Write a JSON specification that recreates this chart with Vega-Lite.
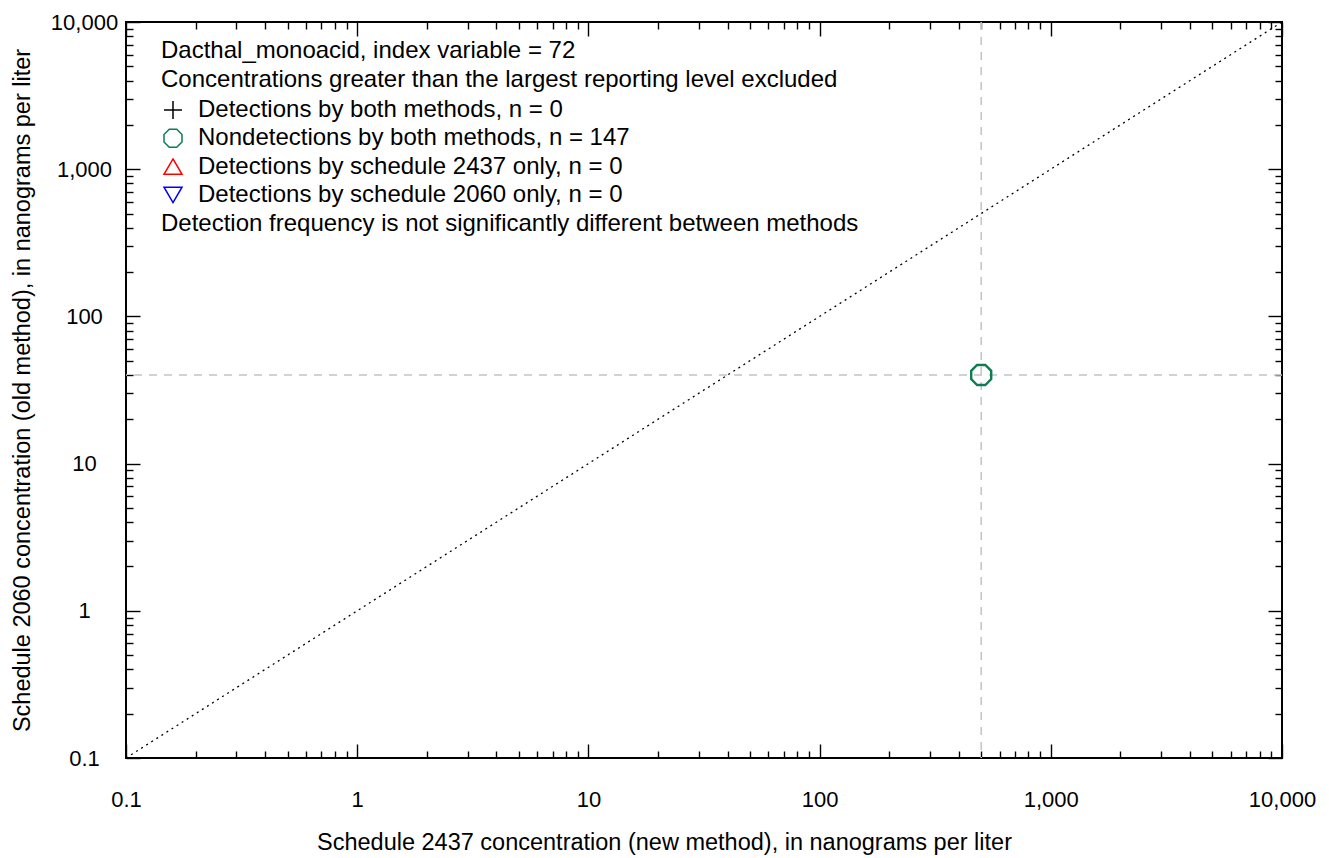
{
  "$schema": "https://vega.github.io/schema/vega-lite/v6.json",
  "width": 1156,
  "height": 736,
  "autosize": {"type": "none"},
  "padding": {"left": 126, "top": 22, "right": 47, "bottom": 100},
  "background": "white",
  "config": {
    "font": "Liberation Sans",
    "view": {"stroke": "black", "strokeWidth": 2},
    "axis": {
      "domain": false,
      "grid": false,
      "labelFont": "Liberation Sans",
      "labelFontSize": 22,
      "labelColor": "black",
      "titleFont": "Liberation Sans",
      "titleFontSize": 23.5,
      "titleFontWeight": "normal",
      "titleColor": "black",
      "tickColor": "black",
      "tickWidth": 1.4,
      "labelFlush": false,
      "labelOverlap": false,
      "labelBound": false
    },
    "legend": {
      "labelFont": "Liberation Sans",
      "labelFontSize": 24,
      "labelColor": "black",
      "titleFont": "Liberation Sans",
      "titleFontSize": 24,
      "titleFontWeight": "normal",
      "titleColor": "black",
      "padding": 0,
      "labelLimit": 0,
      "titleLimit": 0
    }
  },
  "datasets": {
    "samples": [
      {"new": 500, "old": 40, "category": "Nondetections by both methods,  n = 147"}
    ],
    "diagonal": [{"v": 0.1}, {"v": 10000}],
    "reporting": [{"level_new": 500, "level_old": 40}]
  },
  "layer": [
    {
      "data": {"name": "diagonal"},
      "mark": {"type": "line", "color": "black", "strokeDash": [2, 4], "strokeWidth": 1.3},
      "encoding": {
        "x": {
          "field": "v", "type": "quantitative",
          "scale": {"type": "log", "domain": [0.1, 10000], "nice": false},
          "axis": {
            "orient": "bottom", "values": [0.1, 1, 10, 100, 1000, 10000], "format": ",",
            "ticks": false, "labelPadding": 31, "titlePadding": 20, "titleX": 538,
            "title": "Schedule 2437 concentration (new method), in nanograms per liter"
          }
        },
        "y": {
          "field": "v", "type": "quantitative",
          "scale": {"type": "log", "domain": [0.1, 10000], "nice": false},
          "axis": {
            "orient": "left", "values": [0.1, 1, 10, 100, 1000, 10000], "format": ",",
            "ticks": false, "labelAlign": "center", "labelPadding": 42, "titlePadding": 16,
            "title": "Schedule 2060 concentration (old method), in nanograms per liter"
          }
        }
      }
    },
    {
      "data": {"name": "reporting"},
      "mark": {"type": "rule", "color": "#c4c4c4", "strokeDash": [8, 7], "strokeWidth": 1.5},
      "encoding": {
        "x": {
          "field": "level_new", "type": "quantitative",
          "scale": {"type": "log", "domain": [0.1, 10000], "nice": false},
          "axis": {"orient": "bottom", "values": [0.1, 1, 10, 100, 1000, 10000], "labels": false, "tickSize": -14, "title": null}
        }
      }
    },
    {
      "data": {"name": "reporting"},
      "mark": {"type": "rule", "color": "#c4c4c4", "strokeDash": [8, 7], "strokeWidth": 1.5},
      "encoding": {
        "y": {
          "field": "level_old", "type": "quantitative",
          "scale": {"type": "log", "domain": [0.1, 10000], "nice": false},
          "axis": {"orient": "left", "values": [0.1, 1, 10, 100, 1000, 10000], "labels": false, "tickSize": -14, "title": null}
        }
      }
    },
    {
      "data": {"name": "samples"},
      "mark": {"type": "point", "filled": false, "strokeWidth": 2.4, "size": 400, "opacity": 1},
      "encoding": {
        "x": {
          "field": "new", "type": "quantitative",
          "scale": {"type": "log", "domain": [0.1, 10000], "nice": false},
          "axis": {"orient": "top", "values": [0.1, 1, 10, 100, 1000, 10000], "labels": false, "tickSize": -14, "title": null}
        },
        "y": {
          "field": "old", "type": "quantitative",
          "scale": {"type": "log", "domain": [0.1, 10000], "nice": false},
          "axis": {"orient": "right", "values": [0.1, 1, 10, 100, 1000, 10000], "labels": false, "tickSize": -14, "title": null}
        },
        "shape": {
          "field": "category", "type": "nominal",
          "scale": {
            "domain": ["Detections by both methods, n = 0", "Nondetections by both methods,  n = 147", "Detections by schedule 2437 only, n = 0", "Detections by schedule 2060 only,  n = 0"],
            "range": ["M-1,0L1,0M0,-1L0,1", "M-0.414,-1L0.414,-1L1,-0.414L1,0.414L0.414,1L-0.414,1L-1,0.414L-1,-0.414Z", "M0,-0.85L1,0.85L-1,0.85Z", "M0,0.85L1,-0.85L-1,-0.85Z"]
          },
          "legend": {
            "orient": "none", "legendX": 35, "legendY": 17,
            "title": ["Dacthal_monoacid, index variable = 72", "Concentrations greater than the largest reporting level excluded"],
            "titleLineHeight": 29, "titlePadding": 6, "rowPadding": 4.3, "labelOffset": 13,
            "symbolSize": 324, "symbolStrokeWidth": 1.5, "symbolFillColor": "transparent"
          }
        },
        "color": {
          "field": "category", "type": "nominal",
          "scale": {
            "domain": ["Detections by both methods, n = 0", "Nondetections by both methods,  n = 147", "Detections by schedule 2437 only, n = 0", "Detections by schedule 2060 only,  n = 0"],
            "range": ["black", "#0e7c52", "#ff0000", "#0000ff"]
          },
          "legend": {
            "orient": "none", "legendX": 35, "legendY": 17,
            "title": ["Dacthal_monoacid, index variable = 72", "Concentrations greater than the largest reporting level excluded"],
            "titleLineHeight": 29, "titlePadding": 6, "rowPadding": 4.3, "labelOffset": 13,
            "symbolSize": 324, "symbolStrokeWidth": 1.5, "symbolFillColor": "transparent"
          }
        }
      }
    },
    {
      "data": {"name": "samples"},
      "mark": {"type": "point", "opacity": 0},
      "encoding": {
        "x": {
          "field": "new", "type": "quantitative",
          "scale": {"type": "log", "domain": [0.1, 10000], "nice": false},
          "axis": {"orient": "bottom", "values": [0.2,0.3,0.4,0.5,0.6,0.7,0.8,0.9,2,3,4,5,6,7,8,9,20,30,40,50,60,70,80,90,200,300,400,500,600,700,800,900,2000,3000,4000,5000,6000,7000,8000,9000], "labels": false, "tickSize": -7, "title": null}
        },
        "y": {
          "field": "old", "type": "quantitative",
          "scale": {"type": "log", "domain": [0.1, 10000], "nice": false},
          "axis": {"orient": "left", "values": [0.2,0.3,0.4,0.5,0.6,0.7,0.8,0.9,2,3,4,5,6,7,8,9,20,30,40,50,60,70,80,90,200,300,400,500,600,700,800,900,2000,3000,4000,5000,6000,7000,8000,9000], "labels": false, "tickSize": -7, "title": null}
        },
        "strokeDash": {
          "datum": "Detection frequency is not significantly different between methods",
          "type": "nominal",
          "legend": {
            "orient": "none", "legendX": 35, "legendY": 190, "title": null,
            "symbolSize": 0, "symbolOpacity": 0, "labelOffset": -24
          }
        }
      }
    },
    {
      "data": {"name": "samples"},
      "mark": {"type": "point", "opacity": 0},
      "encoding": {
        "x": {
          "field": "new", "type": "quantitative",
          "scale": {"type": "log", "domain": [0.1, 10000], "nice": false},
          "axis": {"orient": "top", "values": [0.2,0.3,0.4,0.5,0.6,0.7,0.8,0.9,2,3,4,5,6,7,8,9,20,30,40,50,60,70,80,90,200,300,400,500,600,700,800,900,2000,3000,4000,5000,6000,7000,8000,9000], "labels": false, "tickSize": -7, "title": null}
        },
        "y": {
          "field": "old", "type": "quantitative",
          "scale": {"type": "log", "domain": [0.1, 10000], "nice": false},
          "axis": {"orient": "right", "values": [0.2,0.3,0.4,0.5,0.6,0.7,0.8,0.9,2,3,4,5,6,7,8,9,20,30,40,50,60,70,80,90,200,300,400,500,600,700,800,900,2000,3000,4000,5000,6000,7000,8000,9000], "labels": false, "tickSize": -7, "title": null}
        }
      }
    }
  ],
  "resolve": {"axis": {"x": "independent", "y": "independent"}}
}
